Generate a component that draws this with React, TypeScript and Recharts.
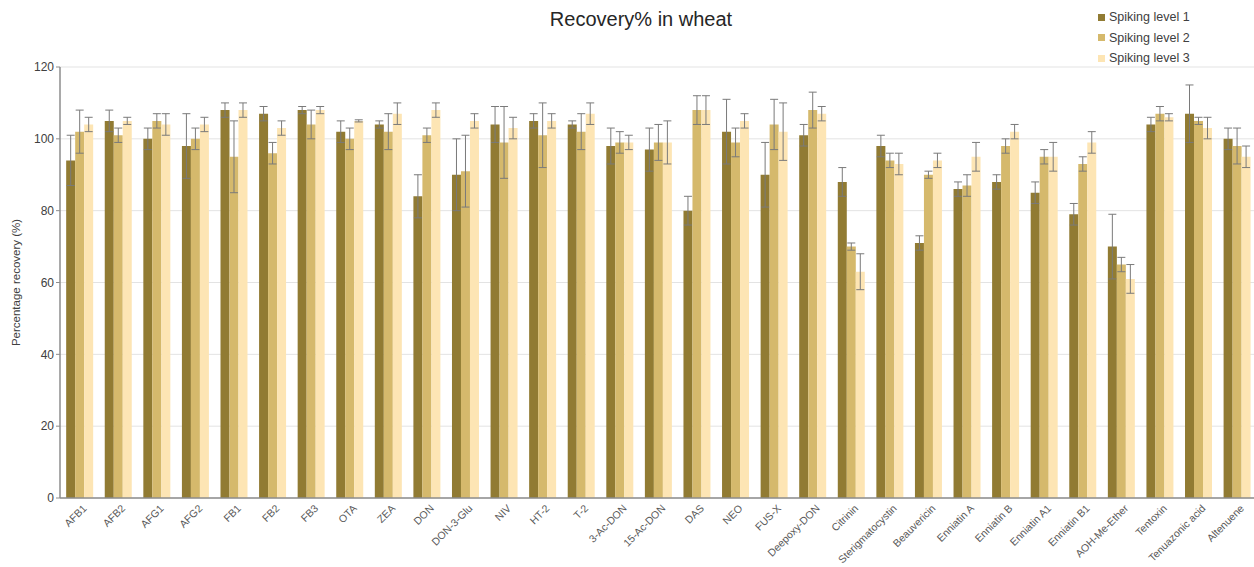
import { Bar, BarChart, CartesianGrid, ErrorBar, XAxis, YAxis } from "recharts";

const categories = [
  "AFB1", "AFB2", "AFG1", "AFG2", "FB1", "FB2", "FB3", "OTA", "ZEA", "DON",
  "DON-3-Glu", "NIV", "HT-2", "T-2", "3-Ac-DON", "15-Ac-DON", "DAS", "NEO", "FUS-X", "Deepoxy-DON",
  "Citrinin", "Sterigmatocystin", "Beauvericin", "Enniatin A", "Enniatin B", "Enniatin A1", "Enniatin B1",
  "AOH-Me-Ether", "Tentoxin", "Tenuazonic acid", "Altenuene",
];

const level1 = [94, 105, 100, 98, 108, 107, 108, 102, 104, 84, 90, 104, 105, 104, 98, 97, 80, 102, 90, 101, 88, 98, 71, 86, 88, 85, 79, 70, 104, 107, 100];
const level1Err = [7, 3, 3, 9, 2, 2, 1, 3, 1, 6, 10, 5, 2, 1, 5, 6, 4, 9, 9, 3, 4, 3, 2, 2, 2, 3, 3, 9, 2, 8, 3];

const level2 = [102, 101, 105, 100, 95, 96, 104, 100, 102, 101, 91, 99, 101, 102, 99, 99, 108, 99, 104, 108, 70, 94, 90, 87, 98, 95, 93, 65, 107, 105, 98];
const level2Err = [6, 2, 2, 3, 10, 3, 4, 3, 5, 2, 10, 10, 9, 5, 3, 5, 4, 4, 7, 5, 1, 2, 1, 3, 2, 2, 2, 2, 2, 1, 5];

const level3 = [104, 105, 104, 104, 108, 103, 108, 105, 107, 108, 105, 103, 105, 107, 99, 99, 108, 105, 102, 107, 63, 93, 94, 95, 102, 95, 99, 61, 106, 103, 95];
const level3Err = [2, 1, 3, 2, 2, 2, 1, 0.3, 3, 2, 2, 3, 2, 3, 2, 6, 4, 2, 8, 2, 5, 3, 2, 4, 2, 4, 3, 4, 1, 3, 3];

const seriesNames = ["Spiking level 1", "Spiking level 2", "Spiking level 3"];
const seriesColors = ["#917b33", "#d5b96c", "#fde5b4"];

const yTicks = [0, 20, 40, 60, 80, 100, 120];

const data = categories.map((name, i) => ({
  name,
  l1: level1[i],
  e1: level1Err[i],
  l2: level2[i],
  e2: level2Err[i],
  l3: level3[i],
  e3: level3Err[i],
}));

const FONT = "'Liberation Sans', Arial, sans-serif";

function AngledTick(props: any) {
  const { x, y, payload } = props;
  return (
    <g transform={`translate(${x + 8},${y + 3})`}>
      <text
        transform="rotate(-45)"
        textAnchor="end"
        fontSize={10.5}
        fill="#595959"
        fontFamily={FONT}
      >
        {payload.value}
      </text>
    </g>
  );
}

export default function App() {
  return (
    <div style={{ position: "absolute", left: 0, top: 0, width: 1254, height: 567, background: "#fff", fontFamily: FONT }}>
      <div
        style={{
          position: "absolute",
          top: 8,
          left: 0,
          width: 1282,
          textAlign: "center",
          fontSize: 20,
          color: "#262626",
        }}
      >
        Recovery% in wheat
      </div>
      <div style={{ position: "absolute", left: 1098, top: 7, fontSize: 12.5, color: "#404040" }}>
        {seriesNames.map((s, i) => (
          <div key={s} style={{ height: 20.5, display: "flex", alignItems: "center" }}>
            <span style={{ width: 7, height: 7, background: seriesColors[i], marginRight: 4 }} />
            {s}
          </div>
        ))}
      </div>
      <BarChart
        width={1254}
        height={567}
        data={data}
        margin={{ top: 67, right: -2, bottom: 0, left: 0 }}
        barCategoryGap="16%"
        barGap={0}
      >
        <CartesianGrid vertical={false} stroke="#e3e3e3" />
        <XAxis
          dataKey="name"
          interval={0}
          tick={<AngledTick />}
          tickLine={false}
          axisLine={{ stroke: "#8c8c8c", strokeWidth: 1.5 }}
          height={69}
        />
        <YAxis
          domain={[0, 120]}
          ticks={yTicks}
          width={60}
          tick={{ fontSize: 12, fill: "#404040", fontFamily: FONT }}
          tickLine={{ stroke: "#8c8c8c" }}
          tickSize={4}
          axisLine={{ stroke: "#8c8c8c", strokeWidth: 1.5 }}
          label={{
            value: "Percentage recovery (%)",
            angle: -90,
            position: "insideLeft",
            offset: 16,
            style: { fontSize: 11.5, fill: "#404040", fontFamily: FONT, textAnchor: "middle" },
          }}
        />
        <Bar dataKey="l1" name={seriesNames[0]} fill={seriesColors[0]} isAnimationActive={false}>
          <ErrorBar dataKey="e1" width={4} stroke="#7a7a7a" strokeWidth={1} direction="y" />
        </Bar>
        <Bar dataKey="l2" name={seriesNames[1]} fill={seriesColors[1]} isAnimationActive={false}>
          <ErrorBar dataKey="e2" width={4} stroke="#7a7a7a" strokeWidth={1} direction="y" />
        </Bar>
        <Bar dataKey="l3" name={seriesNames[2]} fill={seriesColors[2]} isAnimationActive={false}>
          <ErrorBar dataKey="e3" width={4} stroke="#7a7a7a" strokeWidth={1} direction="y" />
        </Bar>
      </BarChart>
    </div>
  );
}
